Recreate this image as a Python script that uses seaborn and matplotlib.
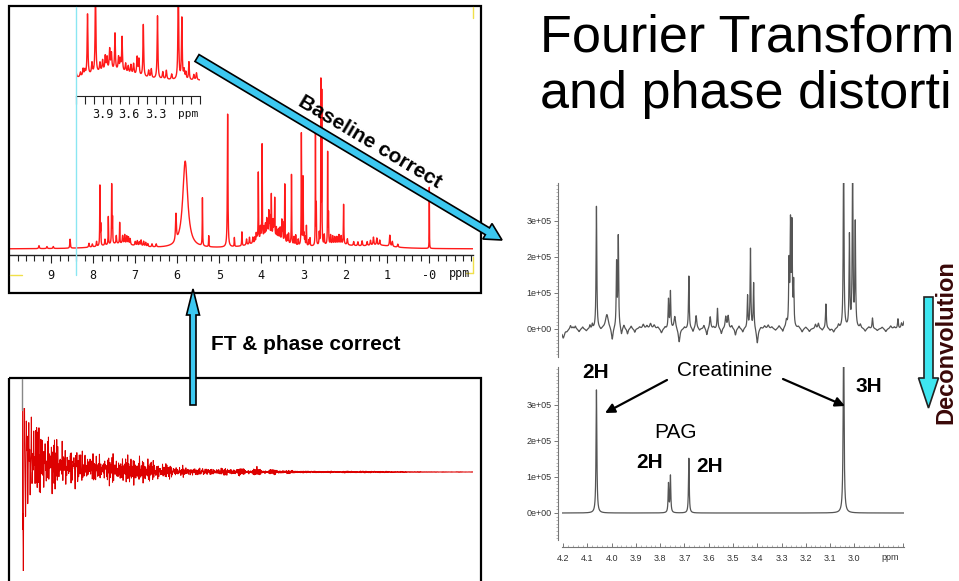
import numpy as np
import seaborn as sns
import matplotlib
matplotlib.use("Agg")
import matplotlib.pyplot as plt
from matplotlib.patches import Rectangle, FancyArrow, FancyArrowPatch
from matplotlib.lines import Line2D
from matplotlib.transforms import Affine2D
from matplotlib.ticker import FixedLocator, MultipleLocator

sns.set_style("white")
plt.rcParams["font.family"] = ["Liberation Sans", "DejaVu Sans"]
plt.rcParams["text.color"] = "black"

W, H = 959, 581

# ---------------------------------------------------------------------------
# Urine 1H NMR spectrum: peak shift (ppm), height (a.u.), half-width (ppm)
# ---------------------------------------------------------------------------
urine_ppm = [
    9.29, 9.10, 8.95, 8.55, 8.10, 8.02,
    7.84, 7.82, 7.64, 7.56, 7.54, 7.45, 7.37, 7.30, 7.20, 7.12,
    7.00, 6.86, 6.75, 6.60, 6.50, 6.03, 5.81, 5.40, 5.25,
    4.80, 4.64, 4.46, 4.35, 4.20, 4.15, 4.12, 4.10, 4.07, 3.98,
    3.93, 3.90, 3.87, 3.85, 3.82, 3.80, 3.76, 3.72, 3.70, 3.68,
    3.64, 3.61, 3.58, 3.55, 3.51, 3.49, 3.44, 3.38, 3.35, 3.28,
    3.22, 3.18, 3.12, 3.045, 3.005, 2.98, 2.96, 2.925, 2.87, 2.84,
    2.71, 2.69, 2.58, 2.56, 2.50, 2.42, 2.40, 2.30, 2.20, 2.10,
    2.04, 1.95, 1.80, 1.60, 1.48, 1.33, 1.25, 1.18, 0.94, 0.88,
    0.75, 0.00,
    7.92, 7.72, 7.25, 7.16, 6.95, 6.90, 6.80, 6.70,
    4.28, 4.02, 2.62, 2.35, 2.25, 2.15, 1.70, 1.40,
]
urine_height = [
    3, 2, 2, 9, 4, 3,
    60, 20, 28, 59, 25, 8, 21, 8, 8, 6,
    4, 6, 4, 3, 3, 27, 87, 48, 11,
    133, 9, 14, 6, 6, 5, 8, 6, 68, 94,
    10, 12, 16, 14, 23, 18, 41, 15, 12, 38,
    10, 8, 10, 12, 20, 18, 58, 8, 10, 70,
    8, 10, 6, 112, 68, 10, 8, 20, 6, 8,
    120, 40, 163, 150, 10, 92, 30, 8, 7, 8,
    40, 6, 4, 5, 4, 8, 7, 5, 11, 5,
    3, 62,
    5, 6, 9, 7, 5, 4, 5, 3,
    7, 12, 12, 9, 7, 9, 4, 5,
]
urine_hw = [
    0.010, 0.010, 0.010, 0.008, 0.010, 0.010,
    0.005, 0.005, 0.005, 0.005, 0.005, 0.008, 0.005, 0.010, 0.010, 0.010,
    0.010, 0.010, 0.010, 0.010, 0.010, 0.012, 0.070, 0.005, 0.005,
    0.008, 0.005, 0.006, 0.010, 0.008, 0.006, 0.006, 0.006, 0.005, 0.005,
    0.006, 0.006, 0.006, 0.006, 0.006, 0.006, 0.005, 0.006, 0.006, 0.005,
    0.006, 0.006, 0.006, 0.006, 0.006, 0.006, 0.005, 0.006, 0.006, 0.005,
    0.006, 0.006, 0.006, 0.005, 0.005, 0.006, 0.006, 0.005, 0.006, 0.006,
    0.004, 0.004, 0.004, 0.004, 0.006, 0.004, 0.005, 0.008, 0.008, 0.008,
    0.006, 0.010, 0.010, 0.010, 0.010, 0.010, 0.010, 0.010, 0.010, 0.010,
    0.010, 0.003,
    0.008, 0.008, 0.008, 0.008, 0.010, 0.010, 0.010, 0.010,
    0.008, 0.006, 0.006, 0.006, 0.008, 0.008, 0.010, 0.010,
]
# broad underlying resonances (macromolecule / baseline humps)
hump_ppm = [7.40, 3.80, 2.20, 1.20]
hump_height = [5, 13, 4, 3]
hump_hw = [0.45, 0.32, 0.40, 0.40]

# ---------------------------------------------------------------------------
# Expanded 4.2-2.8 ppm region before deconvolution (intensity in 1e5)
# ---------------------------------------------------------------------------
region_ppm = [
    4.200, 4.185, 4.170, 4.160, 4.150, 4.135, 4.120, 4.105, 4.090, 4.080,
    4.063, 4.045, 4.020, 3.998, 3.980, 3.973, 3.960, 3.950, 3.935, 3.920,
    3.905, 3.885, 3.870, 3.855, 3.840, 3.825, 3.810, 3.795, 3.780, 3.766,
    3.758, 3.740, 3.722, 3.700, 3.682, 3.665, 3.652, 3.638, 3.620, 3.608,
    3.594, 3.580, 3.564, 3.548, 3.530, 3.520, 3.505, 3.490, 3.475, 3.460,
    3.440, 3.428, 3.415, 3.400, 3.385, 3.370, 3.355, 3.340, 3.325, 3.310,
    3.295, 3.280, 3.269, 3.263, 3.257, 3.250, 3.230, 3.215, 3.200, 3.185,
    3.160, 3.148, 3.132, 3.117, 3.100, 3.085, 3.065, 3.044, 3.020, 3.007,
    2.996, 2.975, 2.955, 2.940, 2.925, 2.905, 2.885, 2.870, 2.850, 2.835,
    2.820, 2.805, 2.795,
]
region_int = [
    -0.25, -0.05, 0.10, 0.05, 0.08, -0.08, 0.06, -0.06, 0.10, 0.12,
    3.40, -0.05, 0.40, -0.35, 1.78, 2.52, -0.20, 0.10, -0.15, 0.08,
    -0.10, 0.05, 0.12, 0.08, 0.14, 0.10, 0.05, -0.12, 0.05, 0.80,
    1.02, 0.35, -0.38, 0.05, 1.47, -0.10, 0.37, -0.05, 0.10, -0.18,
    0.34, 0.05, 0.57, -0.15, 0.33, 0.35, 0.08, -0.18, 0.08, -0.10,
    0.90, 2.21, 1.27, -0.42, 0.05, 0.08, 0.10, 0.05, -0.05, 0.08,
    -0.10, 0.20, 1.73, 2.77, 2.75, 1.19, 0.05, -0.10, 0.05, -0.08,
    0.12, 0.15, -0.05, 0.69, -0.05, -0.10, 0.10, 5.00, 2.55, 4.60,
    2.89, 0.10, -0.08, 0.05, 0.30, -0.05, 0.05, -0.08, 0.08, 0.05,
    0.27, 0.15, 0.20,
]
region_hw = [
    0.006, 0.004, 0.003, 0.003, 0.003, 0.004, 0.003, 0.004, 0.002, 0.002,
    0.0018, 0.004, 0.007, 0.004, 0.0018, 0.0018, 0.003, 0.003, 0.003, 0.003,
    0.003, 0.004, 0.004, 0.004, 0.004, 0.004, 0.004, 0.004, 0.003, 0.0018,
    0.0018, 0.004, 0.004, 0.003, 0.0018, 0.003, 0.003, 0.003, 0.003, 0.003,
    0.003, 0.003, 0.002, 0.003, 0.003, 0.003, 0.003, 0.003, 0.003, 0.003,
    0.0018, 0.0018, 0.0018, 0.004, 0.004, 0.004, 0.004, 0.004, 0.004, 0.004,
    0.003, 0.003, 0.0018, 0.0018, 0.0018, 0.0018, 0.004, 0.004, 0.004, 0.004,
    0.003, 0.003, 0.003, 0.002, 0.003, 0.004, 0.003, 0.0018, 0.0018, 0.0018,
    0.0018, 0.003, 0.004, 0.004, 0.002, 0.004, 0.004, 0.004, 0.004, 0.004,
    0.002, 0.003, 0.003,
]

# Deconvolved components: creatinine CH2 / CH3 and PAG CH2 (intensity in 1e5)
fit_ppm = [4.063, 3.766, 3.758, 3.682, 3.044]
fit_int = [3.42, 0.80, 1.02, 1.52, 5.00]
fit_hw = [0.0020, 0.0018, 0.0018, 0.0018, 0.0022]

# Axis ticks and labels
full_ticks = [9, 8, 7, 6, 5, 4, 3, 2, 1, 0]
full_tick_labels = ["9", "8", "7", "6", "5", "4", "3", "2", "1", "-0"]
zoom_ticks = [3.9, 3.6, 3.3]
zoom_tick_labels = ["3.9", "3.6", "3.3"]
region_ticks = [4.2, 4.1, 4.0, 3.9, 3.8, 3.7, 3.6, 3.5, 3.4, 3.3, 3.2, 3.1, 3.0, 2.9, 2.8]
region_tick_labels = ["4.2", "4.1", "4.0", "3.9", "3.8", "3.7", "3.6", "3.5",
                      "3.4", "3.3", "3.2", "3.1", "3.0", "", ""]
int_ticks = [0, 1, 2, 3]
int_tick_labels = ["0e+00", "1e+05", "2e+05", "3e+05"]

SF_MHZ = 600.0      # spectrometer frequency
CARRIER = 4.80      # transmitter offset (ppm)


def lorentz(x, centers, heights, hws):
    c = np.asarray(centers)[None, :]
    h = np.asarray(heights)[None, :]
    w = np.asarray(hws)[None, :]
    return (h / (1.0 + ((x[:, None] - c) / w) ** 2)).sum(axis=1)


all_ppm = urine_ppm + hump_ppm
all_h = urine_height + hump_height
all_w = urine_hw + hump_hw

# ---------------------------------------------------------------------------
fig = plt.figure(figsize=(W / 100, H / 100), dpi=100)
fig.patch.set_facecolor("white")
PX = Affine2D().scale(1 / W, -1 / H).translate(0, 1) + fig.transFigure


def px_axes(x0, y0, x1, y1):
    ax = fig.add_axes([x0 / W, 1 - y1 / H, (x1 - x0) / W, (y1 - y0) / H])
    ax.set_facecolor("none")
    return ax


def hide_spines(ax, keep=()):
    for k, s in ax.spines.items():
        s.set_visible(k in keep)


mono = ["DejaVu Sans Mono"]
spec_red = "#ff1a1a"

# ---- full spectrum (top left) ----
ax_full = px_axes(10, 6, 473, 255)
x_full = np.linspace(9.98, -1.04, 12000)
y_full = lorentz(x_full, all_ppm, all_h, all_w)
sns.lineplot(x=x_full, y=y_full, ax=ax_full, color=spec_red, linewidth=1.0,
             estimator=None, sort=False)
ax_full.set_xlim(9.98, -1.04)
ax_full.set_ylim(-6, 243)
hide_spines(ax_full, keep=("bottom",))
ax_full.spines["bottom"].set_color("#222222")
ax_full.spines["bottom"].set_linewidth(1.0)
ax_full.set_yticks([])
ax_full.xaxis.set_major_locator(FixedLocator(full_ticks))
ax_full.set_xticklabels(full_tick_labels, family=mono, fontsize=8.5, color="#111111")
ax_full.xaxis.set_minor_locator(MultipleLocator(0.2))
ax_full.tick_params(axis="x", which="major", direction="out", length=6, width=0.8,
                    color="#222222", pad=4, bottom=True)
ax_full.tick_params(axis="x", which="minor", direction="out", length=4, width=0.8,
                    color="#222222", bottom=True)
ax_full.set_xlabel("")
ax_full.set_ylabel("")
fig.text(460, 273, "ppm", transform=PX, family=mono, fontsize=8.5, color="#111111",
         ha="center", va="center")

# ---- expanded inset (4.2-2.8 ppm) ----
ax_zoom = px_axes(76, 6, 200, 96)
x_zoom = np.linspace(4.2, 2.8, 3000)
y_zoom = lorentz(x_zoom, all_ppm, all_h, all_w)
sns.lineplot(x=x_zoom, y=y_zoom, ax=ax_zoom, color=spec_red, linewidth=1.0,
             estimator=None, sort=False)
ax_zoom.set_xlim(4.2, 2.8)
ax_zoom.set_ylim(-14.4, 85.6)
hide_spines(ax_zoom, keep=("bottom",))
ax_zoom.spines["bottom"].set_color("#222222")
ax_zoom.set_yticks([])
ax_zoom.xaxis.set_major_locator(FixedLocator(zoom_ticks))
ax_zoom.set_xticklabels(zoom_tick_labels, family=mono, fontsize=8.5, color="#111111")
ax_zoom.xaxis.set_minor_locator(MultipleLocator(0.1))
ax_zoom.tick_params(axis="x", which="both", direction="out", length=6, width=0.8,
                    color="#222222", pad=3, bottom=True)
ax_zoom.set_xlabel("")
ax_zoom.set_ylabel("")
fig.text(188, 114, "ppm", transform=PX, family=mono, fontsize=8, color="#111111",
         ha="center", va="center")

# ---- FID (bottom left), synthesised from the same resonances ----
ax_fid = px_axes(22, 408, 473, 571)
t = np.linspace(0, 0.32, 20000)
amp = np.pi * np.asarray(all_h) * np.asarray(all_w)
freq = (np.asarray(all_ppm) - CARRIER) * SF_MHZ
decay = 2 * np.pi * np.asarray(all_w) * SF_MHZ
fid = (amp[None, :] * np.cos(2 * np.pi * freq[None, :] * t[:, None])
       * np.exp(-decay[None, :] * t[:, None])).sum(axis=1)
fid = fid / np.abs(fid[t > 0.003]).max() * 55
sns.lineplot(x=t, y=fid, ax=ax_fid, color="#dd0000", linewidth=0.7,
             estimator=None, sort=False)
ax_fid.set_xlim(0, 0.32)
ax_fid.set_ylim(-99, 64)
hide_spines(ax_fid)
ax_fid.set_xticks([])
ax_fid.set_yticks([])
ax_fid.set_xlabel("")
ax_fid.set_ylabel("")

# ---- region before deconvolution (right, top) and after (right, bottom) ----
grey = "#555555"
x_reg = np.linspace(4.205, 2.795, 6000)
ax_raw = px_axes(562, 183, 904, 357)
sns.lineplot(x=x_reg, y=lorentz(x_reg, region_ppm, region_int, region_hw), ax=ax_raw,
             color=grey, linewidth=0.9, estimator=None, sort=False)
ax_fit = px_axes(562, 367, 904, 540)
sns.lineplot(x=x_reg, y=lorentz(x_reg, fit_ppm, fit_int, fit_hw), ax=ax_fit,
             color=grey, linewidth=0.9, estimator=None, sort=False)

for ax, ylim in ((ax_raw, ((329 - 357) / 36, (329 - 183) / 36)),
                 (ax_fit, ((513 - 540) / 36, (513 - 367) / 36))):
    ax.set_xlim(4.205, 2.795)
    ax.set_ylim(*ylim)
    hide_spines(ax, keep=("left",))
    ax.spines["left"].set_position(("outward", 3))
    ax.spines["left"].set_color("#777777")
    ax.spines["left"].set_linewidth(0.8)
    ax.yaxis.set_major_locator(FixedLocator(int_ticks))
    ax.set_yticklabels(int_tick_labels, fontsize=6.5, color="#333333")
    ax.yaxis.set_minor_locator(MultipleLocator(0.1))
    ax.tick_params(axis="y", which="major", direction="out", length=3, width=0.7,
                   color="#777777", pad=1.5, left=True)
    ax.tick_params(axis="y", which="minor", direction="out", length=1.5, width=0.5,
                   color="#999999", left=True)
    ax.set_xlabel("")
    ax.set_ylabel("")

ax_raw.set_xticks([])
ax_fit.spines["bottom"].set_visible(True)
ax_fit.spines["bottom"].set_position(("outward", 5))
ax_fit.spines["bottom"].set_color("#777777")
ax_fit.spines["bottom"].set_linewidth(0.8)
ax_fit.xaxis.set_major_locator(FixedLocator(region_ticks))
ax_fit.set_xticklabels(region_tick_labels, fontsize=6.5, color="#333333")
ax_fit.xaxis.set_minor_locator(MultipleLocator(0.02))
ax_fit.tick_params(axis="x", which="major", direction="in", length=3, width=0.7,
                   color="#777777", pad=5, bottom=True)
ax_fit.tick_params(axis="x", which="minor", direction="in", length=1.5, width=0.5,
                   color="#999999", bottom=True)
fig.text(890, 557, "ppm", transform=PX, fontsize=6.5, color="#333333",
         ha="center", va="center")

# ---- panel frames and cursors ----
fig.add_artist(Rectangle((9, 6), 472, 287, transform=PX, fill=False,
                         ec="black", lw=1.6, zorder=3))
fig.add_artist(Rectangle((9, 378), 472, 220, transform=PX, fill=False,
                         ec="black", lw=1.6, zorder=3))
fig.add_artist(Line2D([76, 76], [7, 275], transform=PX, color="#8ae6f2", lw=1.0, zorder=3))
fig.add_artist(Line2D([22, 22], [379, 410], transform=PX, color="#888888", lw=1.0, zorder=3))
for xs, ys in (([10, 22], [275, 275]), ([473, 473], [257, 273]), ([466, 473], [273, 273]),
               ([473, 473], [7, 18])):
    fig.add_artist(Line2D(xs, ys, transform=PX, color="#f0e04a", lw=1.0, zorder=3))

# ---- processing arrows ----
arrow_blue = "#3cc8f0"
fig.add_artist(FancyArrow(197, 58, 305, 182, width=8, head_width=18, head_length=17,
                          length_includes_head=True, transform=PX, fc=arrow_blue,
                          ec="black", lw=1.2, zorder=5))
fig.text(370, 142, "Baseline correct", transform=PX, fontsize=15, fontweight="bold",
         rotation=-30.8, rotation_mode="anchor", ha="center", va="center", zorder=6)

fig.add_artist(FancyArrow(193, 405, 0, -116, width=6, head_width=13, head_length=26,
                          length_includes_head=True, transform=PX, fc=arrow_blue,
                          ec="black", lw=1.2, zorder=5))
fig.text(211, 345, "FT & phase correct", transform=PX, fontsize=15,
         fontweight="bold", ha="left", va="center")

fig.add_artist(FancyArrow(928.5, 297, 0, 111, width=9, head_width=20, head_length=30,
                          length_includes_head=True, transform=PX, fc="#3ee6f0",
                          ec="#222222", lw=1.2, zorder=5))
fig.text(952, 342, "Deconvolution", transform=PX, fontsize=17, fontweight="bold",
         color="#3a0808", rotation=90, rotation_mode="anchor",
         ha="center", va="baseline")

# ---- title ----
fig.text(540, 52, "Fourier Transform", transform=PX, fontsize=37.5,
         ha="left", va="baseline")
fig.text(540, 108, "and phase distorti", transform=PX, fontsize=37.5,
         ha="left", va="baseline")

# ---- peak assignments ----
fig.text(596, 373, "2H", transform=PX, fontsize=15, fontweight="bold",
         ha="center", va="center")
fig.text(725, 370, "Creatinine", transform=PX, fontsize=15, ha="center", va="center")
fig.text(869, 386, "3H", transform=PX, fontsize=15, fontweight="bold",
         ha="center", va="center")
fig.text(676, 432, "PAG", transform=PX, fontsize=15, ha="center", va="center")
fig.text(650, 462, "2H", transform=PX, fontsize=15, fontweight="bold",
         ha="center", va="center")
fig.text(710, 466, "2H", transform=PX, fontsize=15, fontweight="bold",
         ha="center", va="center")
for start, end in (((667, 380), (605, 413)), ((783, 379), (845, 406))):
    fig.add_artist(FancyArrowPatch(start, end, transform=PX, arrowstyle="-|>",
                                   mutation_scale=14, lw=1.6, color="black",
                                   shrinkA=0, shrinkB=0, zorder=5))

fig.savefig("out.png", dpi=100)
